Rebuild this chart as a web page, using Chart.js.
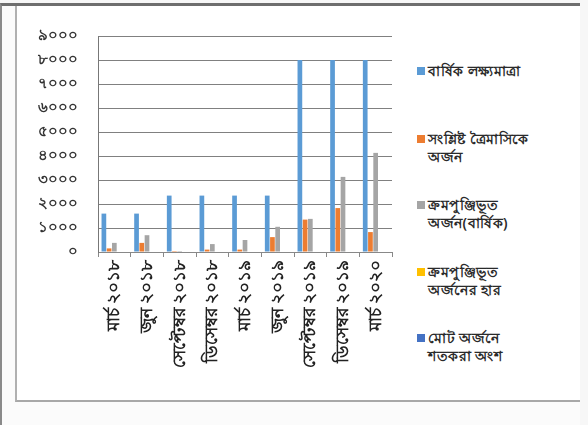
<!DOCTYPE html>
<html>
<head>
<meta charset="utf-8">
<script src="https://cdn.jsdelivr.net/npm/chart.js@4/dist/chart.umd.min.js"></script>
<style>
  body { margin: 0; width: 588px; height: 425px; background: #f7f7f7; position: relative; overflow: hidden; font-family: "Noto Sans", sans-serif; }
  #frame { position: absolute; left: 0; top: 3px; width: 578px; height: 420px; border-top: 3px solid #6e6e6e; border-left: 2px solid #8a8a8a; background: #fbfbfb; }
  #panel { position: absolute; left: 15px; top: 6px; width: 563px; height: 394px; background: #fff; border-left: 2px solid #b0b0b0; border-bottom: 2px solid #a8a8a8; }
  #wrap { position: absolute; left: 16px; top: 6px; width: 384px; height: 394px; }
  #legend { position: absolute; left: 417px; top: 0; width: 170px; height: 400px; }
  .item { position: absolute; left: 0; font-size: 14px; font-weight: 600; letter-spacing: 0.5px; line-height: 18px; color: #2a2a2a; white-space: nowrap; }
  .sw { position: absolute; left: 0; top: 5px; width: 8px; height: 8px; }
  .txt { margin-left: 11px; }
</style>
</head>
<body>
<div id="frame"></div>
<div id="panel"></div>
<div id="wrap"><canvas id="chart"></canvas></div>
<div id="legend"></div>
<script>
const categories = ["মার্চ ২০১৮", "জুন ২০১৮", "সেপ্টেম্বর ২০১৮", "ডিসেম্বর ২০১৮", "মার্চ ২০১৯", "জুন ২০১৯", "সেপ্টেম্বর ২০১৯", "ডিসেম্বর ২০১৯", "মার্চ ২০২০"];
const seriesNames = [
  ["বার্ষিক লক্ষ্যমাত্রা"],
  ["সংশ্লিষ্ট ত্রৈমাসিকে", "অর্জন"],
  ["ক্রমপুঞ্জিভূত", "অর্জন(বার্ষিক)"],
  ["ক্রমপুঞ্জিভূত", "অর্জনের হার"],
  ["মোট অর্জনে", "শতকরা অংশ"]
];
const annualTarget = [1600, 1600, 2350, 2350, 2350, 2350, 8000, 8000, 8000];
const quarterAchieved = [150, 380, 40, 100, 100, 620, 1350, 1830, 830];
const cumulativeAchieved = [380, 700, 40, 330, 500, 1050, 1380, 3130, 4130];
const cumulativeRate = [null, null, null, null, null, null, null, null, null];
const shareOfTotal = [null, null, null, null, null, null, null, null, null];
const yTickLabels = ["০", "১০০০", "২০০০", "৩০০০", "৪০০০", "৫০০০", "৬০০০", "৭০০০", "৮০০০", "৯০০০"];
const colors = ["#5b9bd5", "#ed7d31", "#a5a5a5", "#ffc000", "#4472c4"];
const legendTops = [62, 130, 196, 263, 329];

const allSeries = [annualTarget, quarterAchieved, cumulativeAchieved, cumulativeRate, shareOfTotal];

const ctx = document.getElementById("chart").getContext("2d");
new Chart(ctx, {
  type: "bar",
  data: {
    labels: categories,
    datasets: allSeries.map((d, i) => ({
      label: seriesNames[i].join(" "),
      data: d,
      backgroundColor: colors[i],
      barPercentage: 0.9,
      categoryPercentage: 0.8
    }))
  },
  options: {
    responsive: true,
    maintainAspectRatio: false,
    animation: false,
    layout: { padding: { top: 30, right: 8, left: 0, bottom: 0 } },
    plugins: { legend: { display: false }, tooltip: { enabled: false } },
    scales: {
      x: {
        grid: { offset: true, drawOnChartArea: false, drawTicks: true, tickLength: 5, color: "#888" },
        border: { color: "#888" },
        ticks: { minRotation: 90, maxRotation: 90, color: "#222", font: { size: 17, weight: "600", family: "Noto Sans" }, padding: 3 },
        afterFit: function(scale) { scale.height = 148; }
      },
      y: {
        min: 0,
        max: 9000,
        ticks: {
          stepSize: 1000,
          color: "#333",
          font: { size: 15, weight: "600", family: "Noto Sans" },
          padding: 20,
          callback: function(value) { return yTickLabels[value / 1000]; }
        },
        grid: { color: "#808080", drawTicks: false },
        border: { color: "#777" },
        afterFit: function(scale) { scale.width = 82; }
      }
    }
  }
});

const legend = document.getElementById("legend");
seriesNames.forEach((lines, i) => {
  const item = document.createElement("div");
  item.className = "item";
  item.style.top = legendTops[i] + "px";
  item.innerHTML = '<div class="sw" style="background:' + colors[i] + '"></div><div class="txt">' + lines.join("<br>") + '</div>';
  legend.appendChild(item);
});
</script>
</body>
</html>
